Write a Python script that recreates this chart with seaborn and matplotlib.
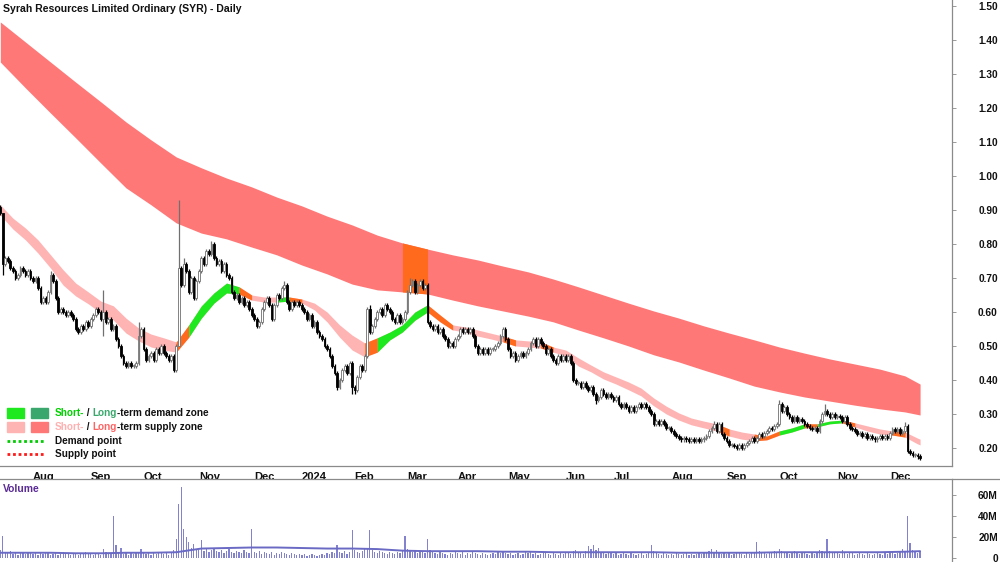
import numpy as np
import pandas as pd
import matplotlib
matplotlib.use('Agg')
import matplotlib.pyplot as plt
from matplotlib.lines import Line2D
from matplotlib.patches import Rectangle
import seaborn as sns

# ---- daily closes (AUD), one list per month ----
close_jul23 = [0.89, 0.74, 0.76, 0.75, 0.73, 0.72, 0.70, 0.71, 0.73, 0.72, 0.71, 0.72, 0.70]
close_aug23 = [0.69, 0.70, 0.67, 0.63, 0.64, 0.63, 0.66, 0.71, 0.69, 0.64, 0.60, 0.61, 0.60, 0.59, 0.60,
               0.59, 0.58, 0.55, 0.54, 0.56, 0.55, 0.57, 0.56]
close_sep23 = [0.58, 0.59, 0.61, 0.60, 0.58, 0.60, 0.57, 0.58, 0.55, 0.56, 0.52, 0.50, 0.47, 0.45, 0.44,
               0.45, 0.44, 0.44, 0.45, 0.53, 0.55]
close_oct23 = [0.49, 0.46, 0.47, 0.48, 0.46, 0.49, 0.48, 0.50, 0.48, 0.47, 0.46, 0.47, 0.43, 0.50, 0.73,
               0.68, 0.74, 0.72, 0.66, 0.70, 0.64, 0.69]
close_nov23 = [0.72, 0.76, 0.74, 0.78, 0.77, 0.80, 0.76, 0.74, 0.75, 0.72, 0.74, 0.71, 0.70, 0.66, 0.64,
               0.65, 0.63, 0.64, 0.62, 0.63, 0.61, 0.59]
close_dec23 = [0.58, 0.56, 0.57, 0.61, 0.63, 0.64, 0.62, 0.58, 0.62, 0.65, 0.64, 0.67, 0.68, 0.63, 0.61,
               0.63, 0.62, 0.63, 0.62]
close_jan24 = [0.61, 0.60, 0.58, 0.59, 0.56, 0.57, 0.54, 0.53, 0.52, 0.50, 0.49, 0.47, 0.44, 0.42, 0.38,
               0.40, 0.43, 0.44, 0.42, 0.45, 0.38]
close_feb24 = [0.37, 0.41, 0.44, 0.43, 0.47, 0.61, 0.54, 0.56, 0.58, 0.60, 0.61, 0.59, 0.62, 0.61, 0.60,
               0.58, 0.57, 0.59, 0.57, 0.58, 0.60]
close_mar24 = [0.66, 0.68, 0.69, 0.66, 0.68, 0.69, 0.67, 0.68, 0.57, 0.56, 0.55, 0.56, 0.54, 0.55, 0.53,
               0.52, 0.50, 0.51, 0.50, 0.52]
close_apr24 = [0.53, 0.55, 0.54, 0.55, 0.54, 0.55, 0.53, 0.50, 0.48, 0.49, 0.48, 0.49, 0.48, 0.49, 0.49,
               0.50, 0.51, 0.53, 0.55, 0.52]
close_may24 = [0.49, 0.47, 0.48, 0.46, 0.47, 0.48, 0.47, 0.48, 0.49, 0.51, 0.52, 0.50, 0.52, 0.51, 0.50,
               0.48, 0.49, 0.47, 0.46, 0.45, 0.47, 0.46, 0.47]
close_jun24 = [0.46, 0.47, 0.45, 0.40, 0.39, 0.39, 0.38, 0.39, 0.38, 0.37, 0.38, 0.36, 0.34, 0.35, 0.37,
               0.36, 0.35, 0.36, 0.35]
close_jul24 = [0.34, 0.35, 0.33, 0.32, 0.33, 0.32, 0.31, 0.32, 0.31, 0.32, 0.33, 0.32, 0.33, 0.32, 0.31,
               0.30, 0.27, 0.28, 0.27, 0.28, 0.27, 0.26, 0.26]
close_aug24 = [0.25, 0.24, 0.235, 0.23, 0.225, 0.23, 0.225, 0.22, 0.225, 0.22, 0.225, 0.22, 0.225, 0.23,
               0.235, 0.25, 0.26, 0.27, 0.25, 0.27, 0.24, 0.23]
close_sep24 = [0.22, 0.21, 0.21, 0.205, 0.20, 0.21, 0.20, 0.21, 0.215, 0.22, 0.23, 0.22, 0.23, 0.24,
               0.235, 0.245, 0.25, 0.26, 0.255, 0.265, 0.27]
close_oct24 = [0.33, 0.31, 0.32, 0.30, 0.29, 0.28, 0.29, 0.28, 0.285, 0.28, 0.27, 0.265, 0.26, 0.255,
               0.26, 0.25, 0.28, 0.30, 0.31, 0.30, 0.29, 0.30, 0.29]
close_nov24 = [0.295, 0.29, 0.28, 0.29, 0.27, 0.26, 0.255, 0.25, 0.24, 0.245, 0.235, 0.24, 0.23, 0.235,
               0.23, 0.225, 0.23, 0.235, 0.23, 0.235, 0.23]
close_dec24 = [0.245, 0.255, 0.25, 0.255, 0.245, 0.25, 0.265, 0.19, 0.185, 0.18, 0.18, 0.175, 0.17]

first_open = 0.91
# bars with longer wicks: bar number -> high / low
wick_high = {0: 0.915, 1: 0.82, 20: 0.72, 41: 0.665, 55: 0.57, 71: 0.93, 73: 0.76, 84: 0.81, 113: 0.69,
             147: 0.62, 163: 0.70, 200: 0.555, 284: 0.28, 310: 0.34, 328: 0.33, 360: 0.275}
wick_low = {1: 0.71, 41: 0.53, 71: 0.50, 134: 0.37, 140: 0.36, 141: 0.36, 237: 0.33}

# ---- daily volume (millions) ----
vol_jul23 = [8, 21, 6, 5, 7, 4, 5, 3, 6, 5, 4, 6, 5]
vol_aug23 = [4, 5, 3, 6, 4, 5, 6, 3, 4, 5, 3, 4, 6, 5, 4, 3, 5, 4, 3, 4, 5, 6, 4]
vol_sep23 = [4, 3, 5, 4, 3, 9, 6, 5, 4, 40, 12, 5, 10, 4, 6, 3, 5, 4, 6, 5, 9]
vol_oct23 = [5, 4, 6, 3, 5, 4, 5, 6, 4, 5, 3, 6, 8, 18, 51, 68, 28, 20, 15, 10, 13, 9]
vol_nov23 = [8, 17, 7, 9, 6, 8, 10, 7, 6, 8, 5, 7, 9, 6, 5, 7, 6, 5, 8, 6, 5, 28]
vol_dec23 = [6, 5, 7, 4, 6, 5, 4, 6, 3, 5, 4, 6, 5, 4, 3, 5, 4, 3, 4]
vol_jan24 = [3, 4, 2, 3, 4, 3, 2, 3, 4, 3, 5, 4, 6, 5, 12, 6, 5, 7, 4, 6, 27]
vol_feb24 = [8, 6, 5, 7, 9, 10, 27, 8, 6, 5, 7, 6, 5, 4, 6, 5, 4, 6, 5, 7, 21]
vol_mar24 = [9, 7, 6, 8, 5, 6, 7, 5, 18, 8, 6, 5, 4, 6, 5, 4, 3, 5, 4, 6]
vol_apr24 = [5, 4, 6, 3, 5, 4, 6, 5, 4, 3, 5, 4, 3, 4, 5, 4, 6, 5, 7, 5]
vol_may24 = [4, 5, 3, 4, 5, 3, 4, 6, 5, 7, 4, 5, 3, 4, 5, 6, 4, 3, 5, 4, 3, 5, 4]
vol_jun24 = [5, 6, 4, 7, 8, 6, 5, 4, 7, 11, 9, 12, 8, 10, 6, 5, 4, 6, 5]
vol_jul24 = [4, 5, 3, 4, 5, 4, 3, 5, 4, 3, 4, 5, 3, 4, 6, 12, 7, 5, 4, 3, 5, 4, 3]
vol_aug24 = [4, 3, 5, 4, 3, 4, 5, 3, 4, 3, 4, 5, 4, 6, 5, 7, 9, 6, 8, 5, 4, 5]
vol_sep24 = [4, 5, 3, 4, 6, 5, 4, 3, 5, 4, 6, 5, 15, 7, 5, 6, 4, 5, 6, 7, 5]
vol_oct24 = [9, 7, 6, 5, 4, 6, 7, 5, 4, 6, 5, 4, 3, 5, 4, 6, 8, 7, 6, 18, 7, 5, 6]
vol_nov24 = [5, 4, 8, 5, 4, 6, 5, 3, 4, 5, 4, 3, 5, 4, 3, 4, 5, 4, 3, 5, 4]
vol_dec24 = [5, 6, 4, 5, 7, 9, 6, 40, 14, 8, 6, 5, 7]

# volume average line, every 10th bar (+ last bar)
vol_avg = [5, 5, 5, 4.5, 4.5, 5, 5, 5.5, 9, 9.5, 10, 10, 9.5, 9, 9, 8.5, 7, 6.5, 6.5, 6.5, 6, 6, 5.5,
           5.5, 5.5, 5.5, 5.5, 5, 5, 5, 5, 5.5, 5.5, 5.5, 5.5, 5.5, 6, 6.5]

# long-term supply zone edges, every 10th bar (+ last bar)
lt_hi = [1.453, 1.394, 1.335, 1.276, 1.218, 1.159, 1.106, 1.056, 1.024, 0.994, 0.968, 0.938, 0.912,
         0.882, 0.856, 0.826, 0.803, 0.785, 0.768, 0.753, 0.735, 0.718, 0.697, 0.674, 0.650, 0.626,
         0.603, 0.582, 0.559, 0.538, 0.518, 0.497, 0.479, 0.462, 0.447, 0.432, 0.412, 0.388]
lt_lo = [1.335, 1.259, 1.185, 1.112, 1.038, 0.965, 0.915, 0.862, 0.832, 0.815, 0.791, 0.768, 0.738,
         0.712, 0.682, 0.665, 0.659, 0.653, 0.635, 0.618, 0.603, 0.588, 0.571, 0.547, 0.524, 0.500,
         0.474, 0.453, 0.429, 0.406, 0.382, 0.365, 0.350, 0.338, 0.326, 0.315, 0.306, 0.297]
lt_zone = 's' * 16 + 'x' + 's' * 21

# short-term zone edges, every 5th bar (+ last bar)
st_hi = [0.915, 0.876, 0.847, 0.812, 0.768, 0.724, 0.685, 0.659, 0.632, 0.618, 0.582, 0.553, 0.535,
         0.524, 0.512, 0.562, 0.618, 0.656, 0.685, 0.674, 0.650, 0.644, 0.644, 0.644, 0.638, 0.626,
         0.600, 0.562, 0.532, 0.509, 0.524, 0.541, 0.562, 0.600, 0.621, 0.591, 0.562, 0.556, 0.547,
         0.538, 0.529, 0.518, 0.515, 0.512, 0.497, 0.488, 0.465, 0.444, 0.424, 0.409, 0.394, 0.376,
         0.347, 0.323, 0.303, 0.288, 0.279, 0.271, 0.256, 0.247, 0.241, 0.235, 0.250, 0.259, 0.271,
         0.271, 0.279, 0.282, 0.274, 0.265, 0.256, 0.250, 0.247, 0.229, 0.226]
st_lo = [0.885, 0.844, 0.812, 0.773, 0.729, 0.679, 0.647, 0.624, 0.597, 0.576, 0.538, 0.515, 0.497,
         0.488, 0.482, 0.526, 0.582, 0.626, 0.656, 0.653, 0.635, 0.629, 0.629, 0.632, 0.626, 0.606,
         0.571, 0.526, 0.488, 0.468, 0.482, 0.518, 0.541, 0.576, 0.600, 0.571, 0.547, 0.541, 0.529,
         0.521, 0.512, 0.500, 0.497, 0.494, 0.482, 0.471, 0.441, 0.424, 0.403, 0.388, 0.371, 0.353,
         0.324, 0.300, 0.282, 0.268, 0.259, 0.250, 0.235, 0.226, 0.221, 0.224, 0.238, 0.247, 0.259,
         0.262, 0.271, 0.274, 0.262, 0.250, 0.241, 0.238, 0.232, 0.212, 0.209]
# s = supply, d = demand, x = changing over
st_zone = ('ssssssssssssss' + 'x' + 'dddd' + 'x' + 'ss' + 'd' + 'x' + 'sssss' + 'x' + 'dddd' + 'xx'
           + 'ssss' + 'x' + 'ss' + 'x' + 'sssssssssssss' + 'x' + 'ss' + 'xx' + 'dd' + 'x' + 'dd' + 'x'
           + 'sss' + 'x' + 'sss')

holidays = ['2023-12-25', '2023-12-26', '2024-01-01', '2024-01-26', '2024-03-29', '2024-04-01',
            '2024-04-25', '2024-06-10']

close = (close_jul23 + close_aug23 + close_sep23 + close_oct23 + close_nov23 + close_dec23
         + close_jan24 + close_feb24 + close_mar24 + close_apr24 + close_may24 + close_jun24
         + close_jul24 + close_aug24 + close_sep24 + close_oct24 + close_nov24 + close_dec24)
volume = (vol_jul23 + vol_aug23 + vol_sep23 + vol_oct23 + vol_nov23 + vol_dec23 + vol_jan24
          + vol_feb24 + vol_mar24 + vol_apr24 + vol_may24 + vol_jun24 + vol_jul24 + vol_aug24
          + vol_sep24 + vol_oct24 + vol_nov24 + vol_dec24)

n = len(close)
dates = pd.bdate_range('2023-07-13', periods=n, freq='C', holidays=holidays)
df = pd.DataFrame({'date': dates, 'close': close, 'volume': volume})
df['open'] = [first_open] + close[:-1]
df['high'] = df[['open', 'close']].max(axis=1) + 0.006
df['low'] = df[['open', 'close']].min(axis=1) - 0.006
for k, v in wick_high.items():
    df.loc[k, 'high'] = v
for k, v in wick_low.items():
    df.loc[k, 'low'] = v
bar = np.arange(n)

lt_bar = list(range(0, n, 10)) + [n - 1]
st_bar = list(range(0, n, 5)) + [n - 1]

# month ticks
month_pos, month_lbl = [], []
for k in range(1, n):
    if dates[k].month != dates[k - 1].month:
        month_pos.append(k)
        month_lbl.append(str(dates[k].year) if dates[k].month == 1 else dates[k].strftime('%b'))

# ---- style ----
sns.set_style('white')
plt.rcParams['font.family'] = ['Liberation Sans', 'DejaVu Sans']
plt.rcParams['font.weight'] = 'bold'

zone_col = {'s': '#ffb4b4', 'd': '#1ee81e', 'x': '#ff6a1c'}
lt_col = {'s': '#ff7878', 'x': '#ff6a1c'}
grey = '#8a8a8a'
XLIM = (-0.13, 378.7)

fig = plt.figure(figsize=(10, 5.62), dpi=100)
ax = fig.add_axes([0, 96 / 562, 0.952, 466 / 562])
axv = fig.add_axes([0, 0, 0.952, 83 / 562])


def zone_runs(zone):
    # consecutive segments that share a zone letter -> (start, end, letter)
    runs, a = [], 0
    for k in range(1, len(zone) + 1):
        if k == len(zone) or zone[k] != zone[a]:
            runs.append((a, k, zone[a]))
            a = k
    return runs


# long-term supply zone: whole band, then the changeover patch on top
ax.fill_between(lt_bar, lt_lo, lt_hi, color=lt_col['s'], lw=0)
for a, b, z in zone_runs(lt_zone[:-1]):
    if z != 's':
        ax.fill_between(lt_bar[a:b + 1], lt_lo[a:b + 1], lt_hi[a:b + 1], color=lt_col[z], lw=0)

# short-term zone
ax.fill_between(st_bar, st_lo, st_hi, color=zone_col['s'], lw=0)
for a, b, z in zone_runs(st_zone[:-1]):
    if z != 's':
        ax.fill_between(st_bar[a:b + 1], st_lo[a:b + 1], st_hi[a:b + 1], color=zone_col[z], lw=0)

# candles
up = df['close'] >= df['open']
edge = np.where(up, '#707070', '#000000')
face = np.where(up, '#ffffff', '#000000')
ax.vlines(bar, df['low'], df['high'], colors=edge, lw=0.9, zorder=3)
body_lo = df[['open', 'close']].min(axis=1)
body_h = (df['close'] - df['open']).abs().clip(lower=0.003)
ax.bar(bar, body_h, bottom=body_lo, width=0.72, color=face, edgecolor=edge, linewidth=0.6, zorder=4)

ax.set_xlim(*XLIM)
ax.set_ylim(0.147, 1.5176)
for s in ['top', 'left']:
    ax.spines[s].set_visible(False)
for s in ['bottom', 'right']:
    ax.spines[s].set_color(grey)
    ax.spines[s].set_linewidth(0.9)
ax.yaxis.tick_right()
yt = np.round(np.arange(0.2, 1.51, 0.1), 2)
ax.set_yticks(yt)
ax.set_yticklabels([f'{v:.2f}' for v in yt])
ax.tick_params(axis='y', direction='out', length=3, width=0.6, color=grey, pad=30,
               labelsize=7.3, labelcolor='#111111')
for lab in ax.get_yticklabels():
    lab.set_horizontalalignment('right')
ax.set_xticks(month_pos)
ax.set_xticklabels(month_lbl, ha='left', fontsize=8, color='#111111')
ax.tick_params(axis='x', direction='out', length=4, width=0.6, color=grey, pad=0.5)

# volume
axv.bar(bar, df['volume'], width=0.5, color='#8282d0', linewidth=0)
sns.lineplot(x=lt_bar, y=vol_avg, ax=axv, color='#6a6ac4', linewidth=1.4)
axv.set_xlim(*XLIM)
axv.set_ylim(-3.8, 75.2)
for s in ['bottom', 'left']:
    axv.spines[s].set_visible(False)
for s in ['top', 'right']:
    axv.spines[s].set_color(grey)
    axv.spines[s].set_linewidth(0.9)
axv.set_xticks([])
axv.yaxis.tick_right()
axv.set_yticks([0, 20, 40, 60])
axv.set_yticklabels(['0', '20M', '40M', '60M'])
axv.tick_params(axis='y', direction='out', length=3, width=0.6, color=grey, pad=30,
                labelsize=7.3, labelcolor='#111111')
for lab in axv.get_yticklabels():
    lab.set_horizontalalignment('right')
axv.set_xlabel('')
axv.set_ylabel('')
fig.add_artist(Line2D([0.952, 1], [83 / 562, 83 / 562], color=grey, lw=0.9, transform=fig.transFigure))


def fxy(px, py):
    return px / 1000, 1 - py / 562


# title / volume label
fig.text(*fxy(3, 9), 'Syrah Resources Limited Ordinary (SYR) - Daily', fontsize=7.6, va='center',
         color='#111111')
fig.text(*fxy(3, 489), 'Volume', fontsize=7.4, va='center', color='#5a2a96')

# legend
swatches = [(7, 408, '#1ee81e'), (31, 408, '#3aa86c'), (7, 422, '#ffb4b4'), (31, 422, '#ff7878')]
for px, py, c in swatches:
    x0, y0 = fxy(px, py + 10)
    fig.add_artist(Rectangle((x0, y0), 17 / 1000, 10 / 562, transform=fig.transFigure, color=c))
for py, c in [(441, '#00cc00'), (454, '#ff1a1a')]:
    x0, y0 = fxy(7, py)
    fig.add_artist(Line2D([x0, 44 / 1000], [y0, y0], transform=fig.transFigure, color=c, lw=2,
                          linestyle=(0, (1, 1))))


def rich(px, py, parts):
    t = fig.text(*fxy(px, py), parts[0][0], color=parts[0][1], fontsize=7.2, va='center')
    for txt, c in parts[1:]:
        t = ax.annotate(txt, xy=(1, 0), xycoords=t, va='bottom', ha='left', color=c, fontsize=7.2,
                        annotation_clip=False)


rich(55, 413, [('Short-', '#00d000'), (' / ', '#111111'), ('Long', '#3aa86c'),
               ('-term demand zone', '#111111')])
rich(55, 427, [('Short-', '#ffb0b0'), (' / ', '#111111'), ('Long', '#ff6464'),
               ('-term supply zone', '#111111')])
fig.text(*fxy(55, 441), 'Demand point', fontsize=7.2, va='center', color='#111111')
fig.text(*fxy(55, 454), 'Supply point', fontsize=7.2, va='center', color='#111111')

fig.savefig('out.png', dpi=100)
